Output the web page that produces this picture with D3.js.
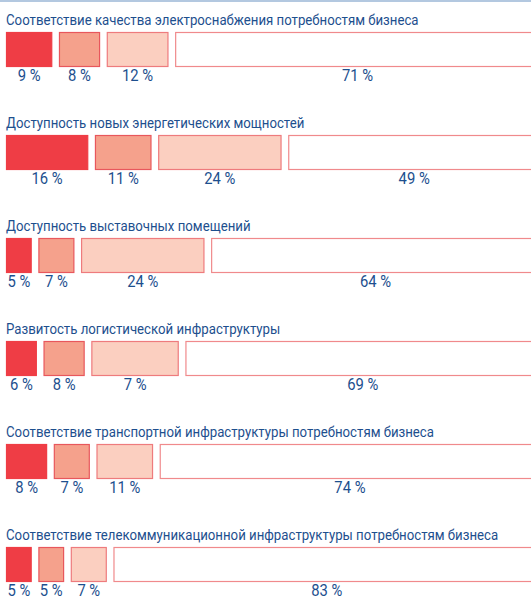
<!DOCTYPE html>
<meta charset="utf-8">
<html>
<head>
    <script src="https://cdn.jsdelivr.net/npm/d3@7"></script>
    <style>
        body { margin: 0; background: #fff; }
        text { font-family: Roboto, "Liberation Sans", sans-serif; }
    </style>
</head>
<body>
    <script>
    var categories = [
        "Соответствие качества электроснабжения потребностям бизнеса",
        "Доступность новых энергетических мощностей",
        "Доступность выставочных помещений",
        "Развитость логистической инфраструктуры",
        "Соответствие транспортной инфраструктуры потребностям бизнеса",
        "Соответствие телекоммуникационной инфраструктуры потребностям бизнеса"
    ];
    // bar sizes as drawn in the picture
    var values = [
        [9, 8, 12, 71],
        [16, 11, 24, 49],
        [5, 7, 24, 64],
        [6, 8, 17, 69],
        [8, 7, 11, 74],
        [5, 5, 7, 83]
    ];
    // labels as printed (row 4 prints 7 % under the third box)
    var labels = [
        ["9 %", "8 %", "12 %", "71 %"],
        ["16 %", "11 %", "24 %", "49 %"],
        ["5 %", "7 %", "24 %", "64 %"],
        ["6 %", "8 %", "7 %", "69 %"],
        ["8 %", "7 %", "11 %", "74 %"],
        ["5 %", "5 %", "7 %", "83 %"]
    ];
    var fills = ["#ef3d45", "#f5a18c", "#fbcfc0", "#ffffff"];
    var strokes = ["#ef3d45", "#e8575c", "#ee7b7d", "#f08a8c"];

    var width = 531, height = 598;
    var gap = 6.7, left = 6;

    var svg = d3.select("body")
        .append("svg")
        .attr("width", width)
        .attr("height", height);

    svg.append("rect")
        .attr("x", 0).attr("y", 0)
        .attr("width", width).attr("height", 2)
        .attr("fill", "#b3c8e0");

    var xScale = d3.scaleLinear()
        .domain([0, 100])
        .range([0, 514]);

    var yScale = d3.scaleBand()
        .domain(d3.range(categories.length))
        .range([0, 6 * 103]);

    // narrow the font: first title is ~413px wide in the original
    var probe = svg.append("text").attr("font-size", 15).text(categories[0]);
    var squeeze = 413 / probe.node().getComputedTextLength();
    probe.remove();

    var rows = svg.selectAll("g.row")
        .data(categories)
        .enter()
        .append("g")
        .attr("class", "row")
        .attr("transform", function(d, i) { return "translate(0," + yScale(i) + ")"; });

    rows.append("text")
        .attr("transform", "translate(" + left + ",25) scale(" + squeeze + ",1)")
        .attr("font-size", 15)
        .attr("fill", "#1d4f8e")
        .text(function(d) { return d; });

    rows.each(function(d, i) {
        var g = d3.select(this);
        var segs = values[i].map(function(v, j) {
            var start = d3.sum(values[i].slice(0, j));
            return {
                x: left + xScale(start) + j * gap,
                w: xScale(v),
                j: j,
                label: labels[i][j]
            };
        });

        g.selectAll("rect.seg")
            .data(segs)
            .enter()
            .append("rect")
            .attr("class", "seg")
            .attr("x", function(s) { return s.x + 0.5; })
            .attr("y", 32.5)
            .attr("width", function(s) { return s.w - 1; })
            .attr("height", 34)
            .attr("fill", function(s) { return fills[s.j]; })
            .attr("stroke", function(s) { return strokes[s.j]; })
            .attr("stroke-width", 1.2);

        g.selectAll("text.lab")
            .data(segs)
            .enter()
            .append("text")
            .attr("class", "lab")
            .attr("transform", function(s) {
                return "translate(" + (s.x + s.w / 2) + ",81) scale(" + (squeeze * 1.05) + ",1)";
            })
            .attr("text-anchor", "middle")
            .attr("font-size", 16)
            .attr("fill", "#1d4f8e")
            .text(function(s) { return s.label; });
    });
    </script>
</body>
</html>
